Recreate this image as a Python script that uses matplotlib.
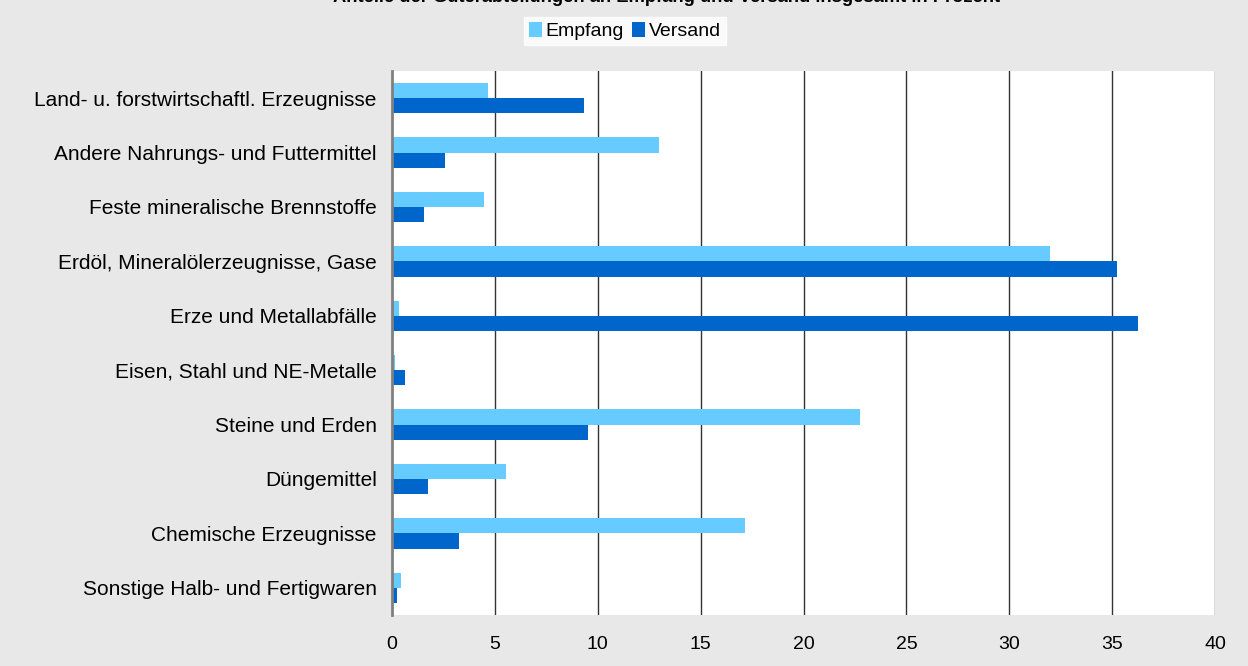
import matplotlib
matplotlib.use("Agg")
import matplotlib.pyplot as plt
import numpy as np

plt.rcParams['font.family'] = ['Liberation Sans', 'DejaVu Sans']

categories = [
    "Land- u. forstwirtschaftl. Erzeugnisse",
    "Andere Nahrungs- und Futtermittel",
    "Feste mineralische Brennstoffe",
    "Erdöl, Mineralölerzeugnisse, Gase",
    "Erze und Metallabfälle",
    "Eisen, Stahl und NE-Metalle",
    "Steine und Erden",
    "Düngemittel",
    "Chemische Erzeugnisse",
    "Sonstige Halb- und Fertigwaren",
]
empfang = [4.65, 13.0, 4.45, 32.0, 0.34, 0.15, 22.75, 5.55, 17.15, 0.43]
versand = [9.32, 2.6, 1.55, 35.23, 36.25, 0.63, 9.52, 1.75, 3.26, 0.24]
xticks = [0, 5, 10, 15, 20, 25, 30, 35, 40]
title = "Anteile der Güterabteilungen an Empfang und Versand insgesamt in Prozent"

W, H = 1248, 666
fig = plt.figure(figsize=(W / 100, H / 100), dpi=100)
fig.patch.set_facecolor('#E8E8E8')

left, right, top, bottom = 392, 1215, 71, 615
ax = fig.add_axes([left / W, 1 - bottom / H, (right - left) / W, (bottom - top) / H])
ax.set_facecolor('white')

n = len(categories)
y = np.arange(n)
bh = 0.28
ax.barh(y - bh / 2, empfang, height=bh, color='#66CCFF', label='Empfang', zorder=3)
ax.barh(y + bh / 2, versand, height=bh, color='#0066CC', label='Versand', zorder=3)

ax.set_ylim(n - 0.5, -0.5)
ax.set_xlim(0, 40)
ax.set_xticks(xticks)
ax.set_xticklabels([str(t) for t in xticks], fontsize=14)
ax.set_yticks(y)
ax.set_yticklabels(categories, fontsize=15)
ax.tick_params(axis='both', length=0)
ax.tick_params(axis='x', pad=15)
ax.tick_params(axis='y', pad=11)

for t in xticks[1:]:
    ax.axvline(t, color='#333333', lw=1.0, zorder=1)
for s in ['top', 'right', 'bottom']:
    ax.spines[s].set_visible(False)
ax.spines['left'].set_color('#808080')
ax.spines['left'].set_linewidth(2)
ax.spines['left'].set_zorder(4)

leg = fig.legend(loc='center', bbox_to_anchor=(625 / W, 1 - 31 / H), ncol=2, frameon=True,
                 fontsize=14, handlelength=0.65, handleheight=0.8, handletextpad=0.2,
                 columnspacing=0.4, borderpad=0.25, fancybox=False)
leg.get_frame().set_facecolor('white')
leg.get_frame().set_edgecolor('white')

fig.text(667 / W, 1 - 2 / H, title, ha='center', va='baseline', fontsize=13.2, fontweight='bold')

fig.savefig('out.png', dpi=100, facecolor=fig.get_facecolor())
